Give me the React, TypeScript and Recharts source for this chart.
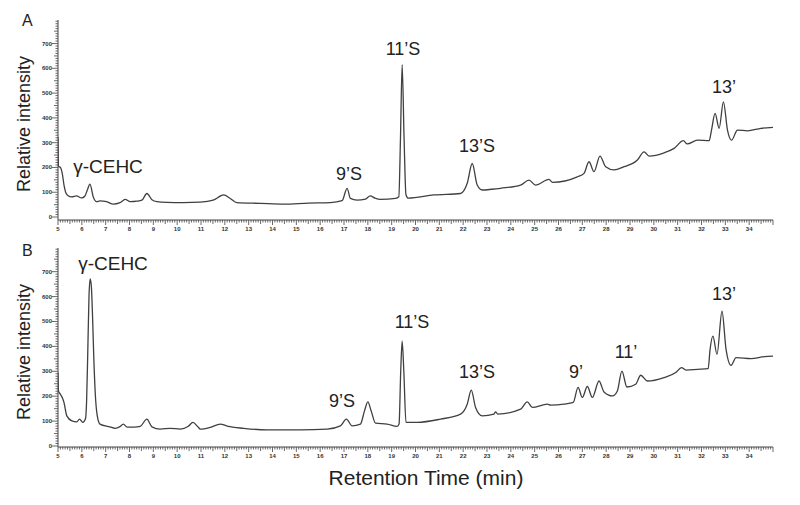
import React from 'react';
import { LineChart, Line, XAxis, YAxis } from 'recharts';

// Panel A (upper chromatogram): retention time (min) and relative intensity
const timesA = [
  5.0, 5.02, 5.1, 5.18, 5.25, 5.32, 5.4, 5.58, 5.78, 5.99, 6.13, 6.23, 6.34, 6.48, 6.62, 6.76,
  7.04, 7.32, 7.6, 7.82, 8.03, 8.31, 8.52, 8.73, 8.94, 9.15, 9.57, 10.26, 10.97, 11.51, 11.95,
  12.23, 12.5, 13.5, 14.47, 15.5, 16.43, 16.92, 17.13, 17.27, 17.55, 17.9, 18.1, 18.3, 18.53,
  19.16, 19.3, 19.37, 19.44, 19.52, 19.6, 19.7, 20.77, 21.89, 22.17, 22.38, 22.59, 22.8, 23.2,
  23.57, 24.41, 24.76, 25.04, 25.6, 25.75, 26.79, 27.07, 27.28, 27.49, 27.74, 27.98, 28.33,
  28.75, 29.31, 29.59, 29.8, 30.43, 30.85, 31.24, 31.4, 31.83, 32.32, 32.42, 32.57, 32.74,
  32.92, 33.09, 33.26, 33.51, 33.93, 34.5, 35.0,
];
const intensityA = [
  323, 205, 200, 175, 130, 100, 88, 81, 85, 77, 85, 109, 133, 81, 62, 65,
  62, 52, 58, 71, 62, 64, 68, 95, 70, 62, 59, 58, 60, 68, 89,
  75, 58, 55, 52, 56, 58, 66, 116, 75, 68, 72, 85, 76, 71,
  75, 82, 320, 615, 320, 90, 76, 89, 95, 136, 216, 129, 109, 112,
  116, 129, 149, 129, 152, 140, 162, 176, 223, 183, 246, 203, 190,
  203, 230, 263, 246, 259, 277, 308, 295, 310, 308, 351, 418, 358,
  465, 351, 310, 351, 348, 358, 362,
];

// Panel B (lower chromatogram)
const timesB = [
  5.0, 5.02, 5.1, 5.2, 5.25, 5.37, 5.58, 5.79, 5.9, 6.04, 6.15, 6.2, 6.25, 6.3, 6.35, 6.4,
  6.45, 6.5, 6.57, 6.65, 6.76, 7.18, 7.39, 7.6, 7.74, 7.9, 8.2, 8.45, 8.73, 8.94, 9.29, 9.71,
  10.13, 10.47, 10.66, 10.87, 10.97, 11.39, 11.81, 12.1, 12.79, 13.77, 15.17, 16.29, 16.85,
  17.1, 17.34, 17.69, 17.86, 18.0, 18.14, 18.32, 18.81, 19.23, 19.31, 19.38, 19.44, 19.51,
  19.6, 20.07, 21.05, 21.89, 22.17, 22.34, 22.52, 22.8, 23.29, 23.36, 23.45, 24.41, 24.69,
  24.9, 25.53, 25.67, 26.23, 26.62, 26.82, 27.0, 27.21, 27.42, 27.7, 27.91, 28.26, 28.47,
  28.66, 28.87, 29.24, 29.45, 29.73, 30.43, 30.92, 31.16, 31.35, 31.83, 32.28, 32.36, 32.48,
  32.65, 32.86, 33.03, 33.24, 33.45, 34.08, 34.64, 35.0,
];
const intensityB = [
  295, 221, 208, 190, 175, 121, 101, 97, 108, 95, 108, 180, 380, 600, 671, 640,
  520, 360, 200, 120, 88, 77, 71, 78, 88, 76, 76, 79, 108, 77, 68, 71,
  68, 79, 95, 77, 68, 75, 88, 80, 71, 65, 65, 68, 81,
  108, 81, 88, 141, 177, 141, 92, 88, 79, 88, 300, 421, 300,
  95, 95, 108, 128, 168, 224, 155, 121, 128, 137, 128, 148, 177,
  155, 168, 164, 168, 175, 235, 195, 239, 195, 261, 217, 201, 221,
  301, 237, 248, 284, 261, 275, 295, 315, 305, 308, 311, 388, 441,
  368, 541, 388, 324, 355, 351, 359, 361,
];

const xTickLabels = [5, 6, 7, 8, 9, 10, 11, 12, 13, 14, 15, 16, 17, 18, 19, 20, 21, 22, 23, 24, 25, 26, 27, 28, 29, 30, 31, 32, 33, 34];
const yTickLabels = [0, 100, 200, 300, 400, 500, 600, 700];

const dataA = timesA.map((t, i) => ({ t, v: intensityA[i] }));
const dataB = timesB.map((t, i) => ({ t, v: intensityB[i] }));

const xTicks: number[] = [];
for (let i = 50; i <= 350; i++) xTicks.push(i / 10);
const yTicks: number[] = [];
for (let v = 0; v <= 790; v += 10) yTicks.push(v);

const AXIS = '#444';
const FONT = 'Liberation Sans, Arial, Helvetica, sans-serif';

const XTick = (props: any) => {
  const { x, y, payload } = props;
  const k = Math.round(payload.value * 10);
  const major = k % 10 === 0;
  const half = k % 5 === 0;
  const len = major ? 5 : half ? 4 : 2.5;
  const lab = k / 10;
  return (
    <g>
      <line x1={x} x2={x} y1={y} y2={y + len} stroke={AXIS} strokeWidth={0.8} />
      {major && xTickLabels.includes(lab) && (
        <text x={x} y={y + 11} textAnchor="middle" fontSize={6} fontFamily={FONT} fill="#333" fontWeight="bold">
          {lab}
        </text>
      )}
    </g>
  );
};

const YTick = (props: any) => {
  const { x, y, payload } = props;
  const v = payload.value;
  const major = v % 100 === 0;
  const half = v % 50 === 0;
  const len = major ? 6 : half ? 4 : 2.5;
  return (
    <g>
      <line x1={x - len} x2={x} y1={y} y2={y} stroke={AXIS} strokeWidth={0.8} />
      {major && yTickLabels.includes(v) && (
        <text x={x - 6} y={y + 2} textAnchor="end" fontSize={6} fontFamily={FONT} fill="#333" fontWeight="bold">
          {v}
        </text>
      )}
    </g>
  );
};

const Panel = ({ data, domain, height }: { data: any[]; domain: [number, number]; height: number }) => (
  <LineChart width={800} height={height} data={data} margin={{ top: 20, right: 27, bottom: 0, left: 0 }}>
    <XAxis
      dataKey="t"
      type="number"
      domain={[5, 35]}
      allowDataOverflow
      ticks={xTicks}
      interval={0}
      tick={<XTick />}
      tickLine={false}
      tickSize={0}
      tickMargin={0}
      height={20}
      axisLine={{ stroke: AXIS, strokeWidth: 1 }}
    />
    <YAxis
      type="number"
      domain={domain}
      allowDataOverflow
      ticks={yTicks}
      interval={0}
      tick={<YTick />}
      tickLine={false}
      tickSize={0}
      tickMargin={0}
      width={58}
      axisLine={{ stroke: AXIS, strokeWidth: 1 }}
    />
    <Line
      dataKey="v"
      type="monotone"
      stroke="#404040"
      strokeWidth={1.3}
      dot={false}
      isAnimationActive={false}
    />
  </LineChart>
);

const T = ({ x, y, s, size = 18, anchor = 'middle' }: { x: number; y: number; s: string; size?: number; anchor?: string }) => (
  <text x={x} y={y} fontSize={size} fontFamily={FONT} fill="#222" textAnchor={anchor as any}>
    {s}
  </text>
);

export default function App() {
  return (
    <div style={{ position: 'absolute', left: 0, top: 0, width: 800, height: 505, background: '#fff' }}>
      <div style={{ position: 'absolute', left: 0, top: 0 }}>
        <Panel data={dataA} domain={[-12, 795]} height={240} />
      </div>
      <div style={{ position: 'absolute', left: 0, top: 228 }}>
        <Panel data={dataB} domain={[-4, 795]} height={239} />
      </div>
      <svg width={800} height={505} style={{ position: 'absolute', left: 0, top: 0, pointerEvents: 'none' }}>
        <T x={22} y={26} s="A" size={16} anchor="start" />
        <T x={22} y={256} s="B" size={16} anchor="start" />
        <text x={30} y={124} fontSize={18} fontFamily={FONT} fill="#222" textAnchor="middle" transform="rotate(-90 30 124)">
          Relative intensity
        </text>
        <text x={30} y={352} fontSize={18} fontFamily={FONT} fill="#222" textAnchor="middle" transform="rotate(-90 30 352)">
          Relative intensity
        </text>
        <T x={426} y={485} s="Retention Time (min)" size={21} />
        {/* Panel A peak labels */}
        <T x={108} y={173} s="γ-CEHC" size={19} />
        <T x={349} y={180} s="9’S" />
        <T x={403} y={55} s="11’S" />
        <T x={477} y={152} s="13’S" />
        <T x={724} y={93} s="13’" />
        {/* Panel B peak labels */}
        <T x={113} y={270} s="γ-CEHC" size={19} />
        <T x={342} y={407} s="9’S" />
        <T x={412} y={328} s="11’S" />
        <T x={477} y={378} s="13’S" />
        <T x={576} y={378} s="9’" />
        <T x={626} y={358} s="11’" />
        <T x={724} y={300} s="13’" />
      </svg>
    </div>
  );
}
